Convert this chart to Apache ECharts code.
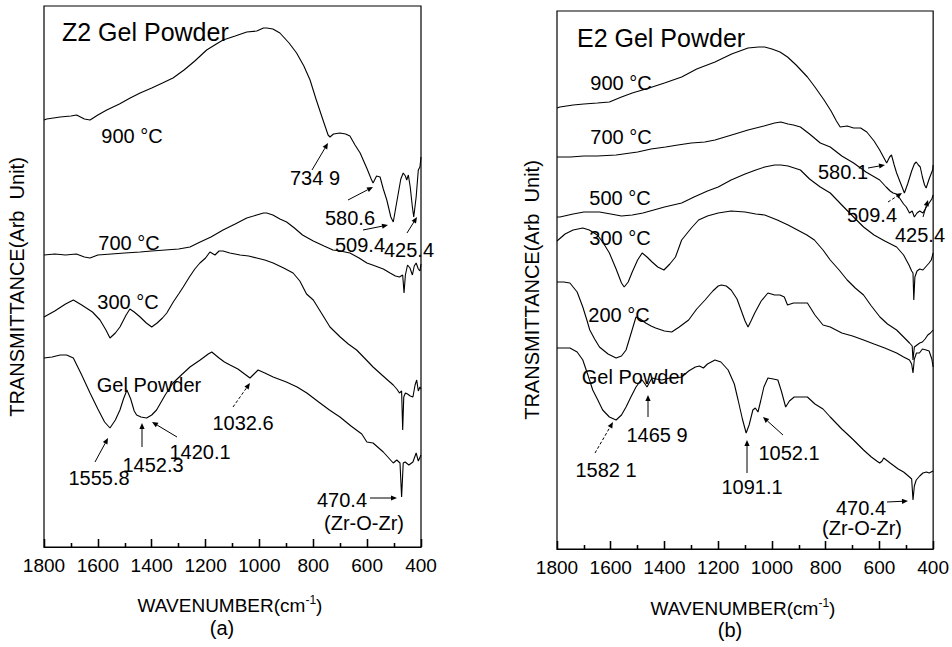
<!DOCTYPE html>
<html><head><meta charset="utf-8">
<script src="https://cdn.jsdelivr.net/npm/echarts@6/dist/echarts.min.js"></script>
<style>html,body{margin:0;padding:0;background:#fff}#c{width:952px;height:647px}</style>
</head><body><div id="c"></div>
<script>
// ---- Data: [wavenumber (cm^-1), transmittance (arb. units, offset)] ----
const Z2_900 = [[1800,427],[1790,428],[1740,430],[1700,431],[1679,432],[1650,428],[1629,427],[1600,432],[1567,437],[1520,443],[1480,449],[1443,454],[1400,459],[1360,464],[1321,469],[1280,477],[1240,486],[1196,497],[1160,503],[1135,507],[1090,511],[1047,515],[1010,516],[985,519],[973,519],[950,518],[924,514],[890,504],[862,494],[835,481],[812,467],[790,448],[764,427],[745,412],[738,410],[725,413],[701,414],[680,413],[664,411],[645,402],[626,394],[600,378],[585,368],[578,364],[565,371],[552,370],[540,358],[527,347],[512,330],[503,325],[490,345],[475,368],[466,374],[458,371],[453,367],[447,372],[440,360],[432,340],[427,330],[418,350],[410,377],[404,380],[400,390]];
const Z2_700 = [[1800,292],[1760,293],[1720,292],[1680,293],[1650,290],[1629,289],[1600,292],[1550,293],[1500,294],[1443,295],[1400,296],[1350,297],[1300,298],[1258,300],[1220,305],[1180,310],[1135,317],[1090,323],[1047,329],[1010,332],[985,334],[973,334],[950,332],[924,328],[899,325],[870,319],[840,312],[800,306],[760,301],[727,297],[700,296],[664,294],[630,289],[601,284],[580,282],[560,280],[540,278],[515,274],[495,271],[480,270],[468,272],[463,254],[458,272],[450,282],[441,279],[432,272],[425,281],[418,284],[410,278],[404,276],[400,283]];
const Z2_300 = [[1800,230],[1760,236],[1720,243],[1691,247],[1660,242],[1620,235],[1592,227],[1570,217],[1555,209],[1535,214],[1518,220],[1495,232],[1481,238],[1465,235],[1443,230],[1420,224],[1400,220],[1380,224],[1360,229],[1344,234],[1320,245],[1300,253],[1283,260],[1260,270],[1240,278],[1221,284],[1200,289],[1184,295],[1165,292],[1150,296],[1135,296],[1110,294],[1072,292],[1040,291],[1010,289],[980,287],[949,284],[910,279],[875,274],[850,266],[825,253],[800,247],[770,234],[738,220],[700,210],[670,203],[639,197],[610,189],[578,180],[545,172],[520,166],[503,162],[490,158],[480,154],[472,156],[468,117],[464,150],[458,154],[450,153],[440,151],[430,150],[422,162],[416,167],[410,156],[404,160],[400,158]];
const Z2_GEL = [[1800,189],[1770,190],[1740,192],[1716,192],[1691,189],[1660,172],[1629,154],[1600,138],[1575,125],[1555,119],[1535,127],[1518,137],[1505,148],[1492,157],[1478,148],[1465,136],[1456,132],[1440,130],[1419,129],[1400,132],[1382,137],[1350,152],[1321,164],[1290,172],[1258,180],[1220,187],[1190,193],[1177,195],[1150,189],[1130,185],[1109,182],[1080,178],[1060,174],[1035,169],[1020,173],[1005,177],[980,174],[949,170],[900,165],[860,160],[824,154],[780,145],[740,137],[701,130],[660,121],[620,113],[601,105],[578,104],[540,95],[503,84],[490,87],[478,84],[472,50],[466,84],[459,85],[445,82],[430,85],[418,94],[410,86],[400,92]];

const E2_900 = [[1800,441],[1789,442],[1740,444],[1700,445],[1650,446],[1605,447],[1560,452],[1520,456],[1457,461],[1400,466],[1336,472],[1280,480],[1212,487],[1150,495],[1089,501],[1050,502],[1027,502],[1000,500],[970,497],[942,492],[910,484],[868,472],[840,462],[806,449],[780,438],[760,428],[746,422],[720,423],[696,421],[670,421],[647,417],[620,408],[599,399],[585,392],[573,386],[562,392],[555,394],[545,384],[536,376],[520,365],[507,356],[495,365],[480,378],[470,385],[463,387],[455,384],[448,382],[440,372],[432,364],[426,361],[415,370],[402,379],[400,384]];
const E2_700 = [[1800,392],[1750,392],[1700,393],[1650,393],[1580,394],[1500,397],[1450,400],[1396,402],[1350,404],[1300,406],[1250,407],[1212,409],[1150,414],[1089,419],[1030,423],[990,426],[967,427],[940,425],[920,424],[894,422],[860,415],[820,406],[783,402],[740,393],[696,386],[650,377],[599,369],[575,362],[560,358],[549,356],[537,355],[525,351],[510,345],[500,342],[488,336],[478,338],[470,332],[460,336],[450,338],[438,336],[425,342],[415,346],[405,350],[400,354]];
const E2_500 = [[1800,332],[1789,332],[1740,335],[1700,337],[1642,337],[1600,335],[1560,333],[1520,334],[1480,336],[1440,339],[1400,342],[1336,346],[1290,352],[1240,358],[1200,362],[1152,369],[1100,375],[1060,379],[1027,382],[990,384],[967,384],[940,383],[894,379],[860,370],[820,362],[783,356],[740,344],[700,333],[659,322],[620,314],[580,308],[536,302],[510,294],[490,284],[480,278],[475,276],[472,249],[468,272],[460,278],[450,280],[438,279],[425,283],[415,286],[407,289],[400,296]];
const E2_300 = [[1800,308],[1770,315],[1740,319],[1704,321],[1680,319],[1650,314],[1630,307],[1605,296],[1580,280],[1560,266],[1550,262],[1535,267],[1520,277],[1500,289],[1483,296],[1465,292],[1446,287],[1425,282],[1402,279],[1380,285],[1359,292],[1336,309],[1300,321],[1273,329],[1240,333],[1200,336],[1152,338],[1100,337],[1060,335],[1027,334],[980,329],[940,324],[905,319],[870,314],[842,309],[810,299],[783,289],[750,279],[720,269],[690,261],[659,254],[630,243],[598,232],[570,225],[536,219],[510,212],[488,206],[478,203],[475,189],[470,202],[460,204],[450,206],[440,207],[430,210],[420,214],[410,216],[400,219]];
const E2_200 = [[1800,267],[1775,267],[1752,266],[1725,257],[1704,242],[1690,230],[1678,219],[1660,210],[1642,202],[1610,195],[1580,191],[1560,193],[1543,199],[1525,215],[1506,232],[1490,230],[1470,226],[1450,223],[1433,221],[1400,218],[1373,217],[1345,222],[1310,229],[1280,240],[1249,249],[1220,258],[1200,263],[1188,264],[1170,263],[1152,259],[1130,250],[1115,239],[1100,228],[1089,222],[1078,228],[1064,236],[1040,248],[1015,256],[990,254],[970,254],[954,252],[942,244],[920,246],[890,246],[868,246],[840,234],[810,224],[783,222],[740,216],[700,213],[659,209],[620,205],[580,201],[536,196],[510,192],[488,189],[480,185],[475,176],[470,190],[462,196],[451,196],[440,200],[426,199],[415,198],[405,190],[400,182]];
const E2_GEL = [[1800,201],[1770,201],[1752,201],[1725,197],[1704,189],[1685,174],[1667,159],[1650,150],[1630,139],[1605,132],[1580,129],[1560,134],[1543,142],[1525,152],[1506,162],[1490,168],[1483,169],[1475,166],[1465,162],[1455,167],[1446,171],[1430,170],[1410,169],[1380,171],[1360,171],[1336,172],[1310,178],[1285,182],[1270,183],[1255,181],[1240,185],[1212,189],[1190,187],[1163,179],[1140,165],[1126,149],[1110,130],[1096,116],[1085,124],[1071,139],[1062,141],[1052,137],[1042,148],[1030,162],[1015,171],[995,170],[978,169],[965,158],[949,142],[935,148],[917,152],[890,152],[868,152],[840,145],[810,140],[783,132],[740,120],[700,110],[659,99],[630,92],[610,88],[599,86],[590,88],[584,91],[560,86],[530,80],[510,77],[488,72],[480,70],[475,49],[470,63],[463,69],[450,73],[438,76],[425,77],[415,76],[400,78]];

const xTicks = [1800,1600,1400,1200,1000,800,600,400];
const panelTitles = ['Z2 Gel Powder','E2 Gel Powder'];
const panelTags = ['(a)','(b)'];
const yName = 'TRANSMITTANCE(Arb  Unit)';
const curveLabelsA = ['900 °C','700 °C','300 °C','Gel Powder'];
const curveLabelsB = ['900 °C','700 °C','500 °C','300 °C','200 °C','Gel Powder'];

// ---- Layout / annotations (pixel placement) ----
const FONT = 'Liberation Sans, Arial, sans-serif';
const texts = [
  [panelTitles[0],62,32,25,'left'],
  [curveLabelsA[0],132,136,20],[curveLabelsA[1],129,243,20],[curveLabelsA[2],128,302,20],[curveLabelsA[3],149,385,20],
  ['734 9',315,178,20],['580.6',350,218,20],['509.4',360,245,20],['425.4',409,250,20],
  ['1555.8',99,478,20],['1452.3',153,465,20],['1420.1',200,452,20],['1032.6',243,423,20],
  ['470.4',342,500,20],['(Zr-O-Zr)',364,523,20],
  [panelTitles[1],577,38,25,'left'],
  [curveLabelsB[0],621,83,20],[curveLabelsB[1],621,137,20],[curveLabelsB[2],620,198,20],[curveLabelsB[3],620,238,20],[curveLabelsB[4],619,315,20],[curveLabelsB[5],634,377,20],
  ['580.1',843,172,20],['509.4',872,215,20],['425.4',920,235,20],
  ['1465 9',657,435,20],['1582 1',606,470,20],['1091.1',752,487,20],['1052.1',789,453,20],
  ['470.4',861,508,20],['(Zr-O-Zr)',862,528,20],
  [panelTags[0],222,628,20],[panelTags[1],730,630,20]
];
const arrows = [
  [312,170,328,143],[348,200,373,187],[363,230,388,225],[407,233,417,217],
  [95,462,108,438],[142,447,142,423],[177,437,152,422],[233,407,250,383,1],[370,498,397,498],
  [868,168,885,165],[888,202,902,193,1],[923,217,928,200],
  [648,417,648,395],[595,453,613,422,1],[747,473,747,440],[783,435,763,417],[887,502,908,501]
];

const graphic = [];
texts.forEach(t => {
  graphic.push({type:'text', x:t[1], y:t[2], z:10, style:{text:t[0], font:t[3]+'px '+FONT, fill:'#000', textAlign:t[4]||'center', textVerticalAlign:'middle'}});
});
arrows.forEach(a => {
  const [x1,y1,x2,y2,d] = a;
  const dx=x2-x1, dy=y2-y1, L=Math.hypot(dx,dy), ux=dx/L, uy=dy/L;
  const hl=6, hw=2.6;
  const bx=x2-ux*hl, by=y2-uy*hl;
  graphic.push({type:'line', z:10, shape:{x1:x1,y1:y1,x2:bx,y2:by}, style:{stroke:'#000', lineWidth:1, lineDash:d?[3,2]:null}});
  graphic.push({type:'polygon', z:10, shape:{points:[[x2,y2],[bx-uy*hw,by+ux*hw],[bx+uy*hw,by-ux*hw]]}, style:{fill:'#000'}});
});
graphic.push({type:'text', x:17, y:287, rotation:Math.PI/2, style:{text:yName, font:'20px '+FONT, fill:'#000', textAlign:'center', textVerticalAlign:'middle'}});
graphic.push({type:'text', x:532, y:290, rotation:Math.PI/2, style:{text:yName, font:'20px '+FONT, fill:'#000', textAlign:'center', textVerticalAlign:'middle'}});
function xName(cx, cy){
  return {type:'text', x:cx, y:cy, style:{text:'{a|WAVENUMBER(cm}{s|-1}{a|)}', textAlign:'center', textVerticalAlign:'middle',
    rich:{a:{font:'19px '+FONT, fill:'#000'}, s:{font:'12px '+FONT, fill:'#000', verticalAlign:'top', padding:[0,0,10,0]}}}};
}
graphic.push(xName(230,605));
graphic.push(xName(743,608));

// inward tick marks along the bottom axis, placed through the axis scale
function tickMarks(){
  const d = [];
  for (let i = 0; i < xTicks.length; i++) {
    d.push([{coord:[xTicks[i],0]},{coord:[xTicks[i],8]}]);
    if (i < xTicks.length - 1) {
      const m = (xTicks[i] + xTicks[i+1]) / 2;
      d.push([{coord:[m,0]},{coord:[m,4]}]);
    }
  }
  return {silent:true, symbol:'none', animation:false, label:{show:false},
    lineStyle:{color:'#000', width:1.3, type:'solid'}, emphasis:{disabled:true}, data:d};
}

function xAx(idx){
  return {gridIndex:idx, type:'value', inverse:true, min:400, max:1800, interval:200,
    axisLine:{show:true, lineStyle:{color:'#000', width:1.2}},
    axisTick:{show:true, inside:true, length:8, lineStyle:{color:'#000', width:1.3}},
    minorTick:{show:true, splitNumber:2, length:4, lineStyle:{color:'#000', width:1.3}},
    splitLine:{show:false},
    axisLabel:{color:'#000', fontSize:19, fontFamily:FONT, margin:9,
      formatter: v => xTicks.indexOf(v) >= 0 ? String(v) : ''}};
}
function yAx(idx, max){
  return {gridIndex:idx, type:'value', min:0, max:max, show:false};
}
function ser(data, xi, withTicks){
  const s = {type:'line', xAxisIndex:xi, yAxisIndex:xi, data:data, showSymbol:false,
    lineStyle:{color:'#000', width:1.1}, itemStyle:{color:'#000'}};
  if (withTicks) s.markLine = tickMarks();
  return s;
}
const chart = echarts.init(document.getElementById('c'), null, {renderer:'svg'});
chart.setOption({
  animation:false,
  grid:[
    {left:44, right:952-421, top:6, bottom:647-547, show:true, borderColor:'#000', borderWidth:1.2},
    {left:557, right:952-937, top:11, bottom:647-549, show:true, borderColor:'#000', borderWidth:1.2}
  ],
  xAxis:[xAx(0), xAx(1)],
  yAxis:[yAx(0,541), yAx(1,538)],
  series:[
    ser(Z2_900,0,true), ser(Z2_700,0), ser(Z2_300,0), ser(Z2_GEL,0),
    ser(E2_900,1,true), ser(E2_700,1), ser(E2_500,1), ser(E2_300,1), ser(E2_200,1), ser(E2_GEL,1)
  ],
  graphic: graphic
});
</script></body></html>
